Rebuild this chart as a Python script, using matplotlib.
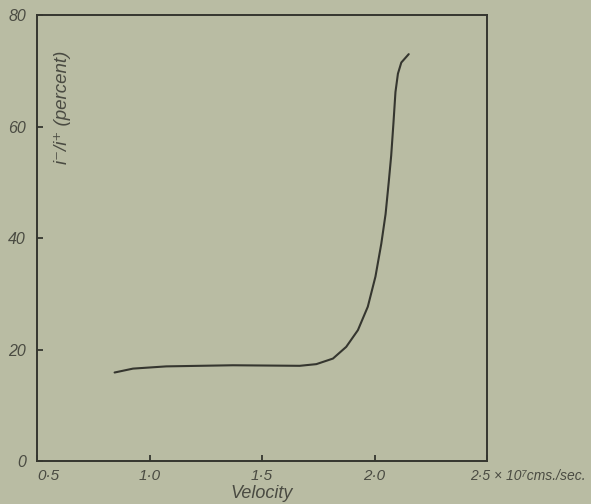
"""
Ratio i-/i+ against velocity, redrawn from an old scanned figure.
"""

import numpy as np
from matplotlib import pyplot as plt
from matplotlib import transforms

plt.rcParams["font.family"] = ["Liberation Sans", "DejaVu Sans"]
plt.rcParams["font.style"] = "italic"
plt.rcParams.update({'font.size': 11})

PAPER = "#b9bca3"
INK = "#35362f"
TEXT_INK = "#4a4b42"

# velocity in units of 1e7 cm/s, ratio in percent
velocity = [0.844, 0.926, 1.074, 1.37, 1.667, 1.741, 1.815, 1.874, 1.926, 1.970,
            2.004, 2.030, 2.049, 2.063, 2.074, 2.084, 2.093, 2.104, 2.119, 2.152]
ratio = [15.9, 16.6, 17.0, 17.2, 17.1, 17.4, 18.4, 20.5, 23.5, 27.7,
         33.1, 39.0, 44.3, 50.0, 54.8, 60.6, 66.2, 69.5, 71.5, 73.0]

x_ticks = [0.5, 1.0, 1.5, 2.0, 2.5]
x_tick_labels = ["0·5", "1·0", "1·5", "2·0", "2·5 × 10⁷cms./sec."]
y_ticks = [0, 20, 40, 60, 80]
y_tick_labels = ["0", "20", "40", "60", "80"]


def main():
    fig = plt.figure(figsize=(5.91, 5.04), dpi=100)
    fig.patch.set_facecolor(PAPER)
    ax = fig.add_axes([0.063, 0.085, 0.761, 0.885])
    ax.set_facecolor(PAPER)

    # the curve
    ax.plot(velocity, ratio, color=INK, linewidth=1.5, solid_capstyle='round',
            solid_joinstyle='round')

    ax.set_xlim(0.5, 2.5)
    ax.set_ylim(0, 80)

    for sp in ax.spines.values():
        sp.set_color(INK)
        sp.set_linewidth(1.4)

    ax.set_xticks(x_ticks, x_tick_labels)
    ax.set_yticks(y_ticks, y_tick_labels)
    ax.tick_params(direction='in', length=4, width=1.3, color=INK,
                   labelcolor=TEXT_INK)
    ax.tick_params(axis='x', pad=6, labelsize=11)
    ax.tick_params(axis='y', pad=8, labelsize=11.5)

    # first and last x labels sit off their ticks in the original
    xlabels = ax.get_xticklabels()
    xlabels[0].set_horizontalalignment('left')
    xlabels[-1].set_horizontalalignment('left')
    xlabels[-1].set_fontsize(10)
    xlabels[-1].set_transform(xlabels[-1].get_transform() +
                              transforms.ScaledTranslation(-17/100, 0, fig.dpi_scale_trans))

    ax.set_xlabel("Velocity", color=TEXT_INK, fontsize=13, labelpad=1)

    # y label sits inside the frame
    ax.text(0.056, 0.794, "i⁻/i⁺ (percent)", transform=ax.transAxes,
            rotation=90, ha='center', va='center', color=TEXT_INK, fontsize=13.5)

    fig.savefig("out.png", dpi=100, facecolor=PAPER)


if __name__ == "__main__":
    main()
